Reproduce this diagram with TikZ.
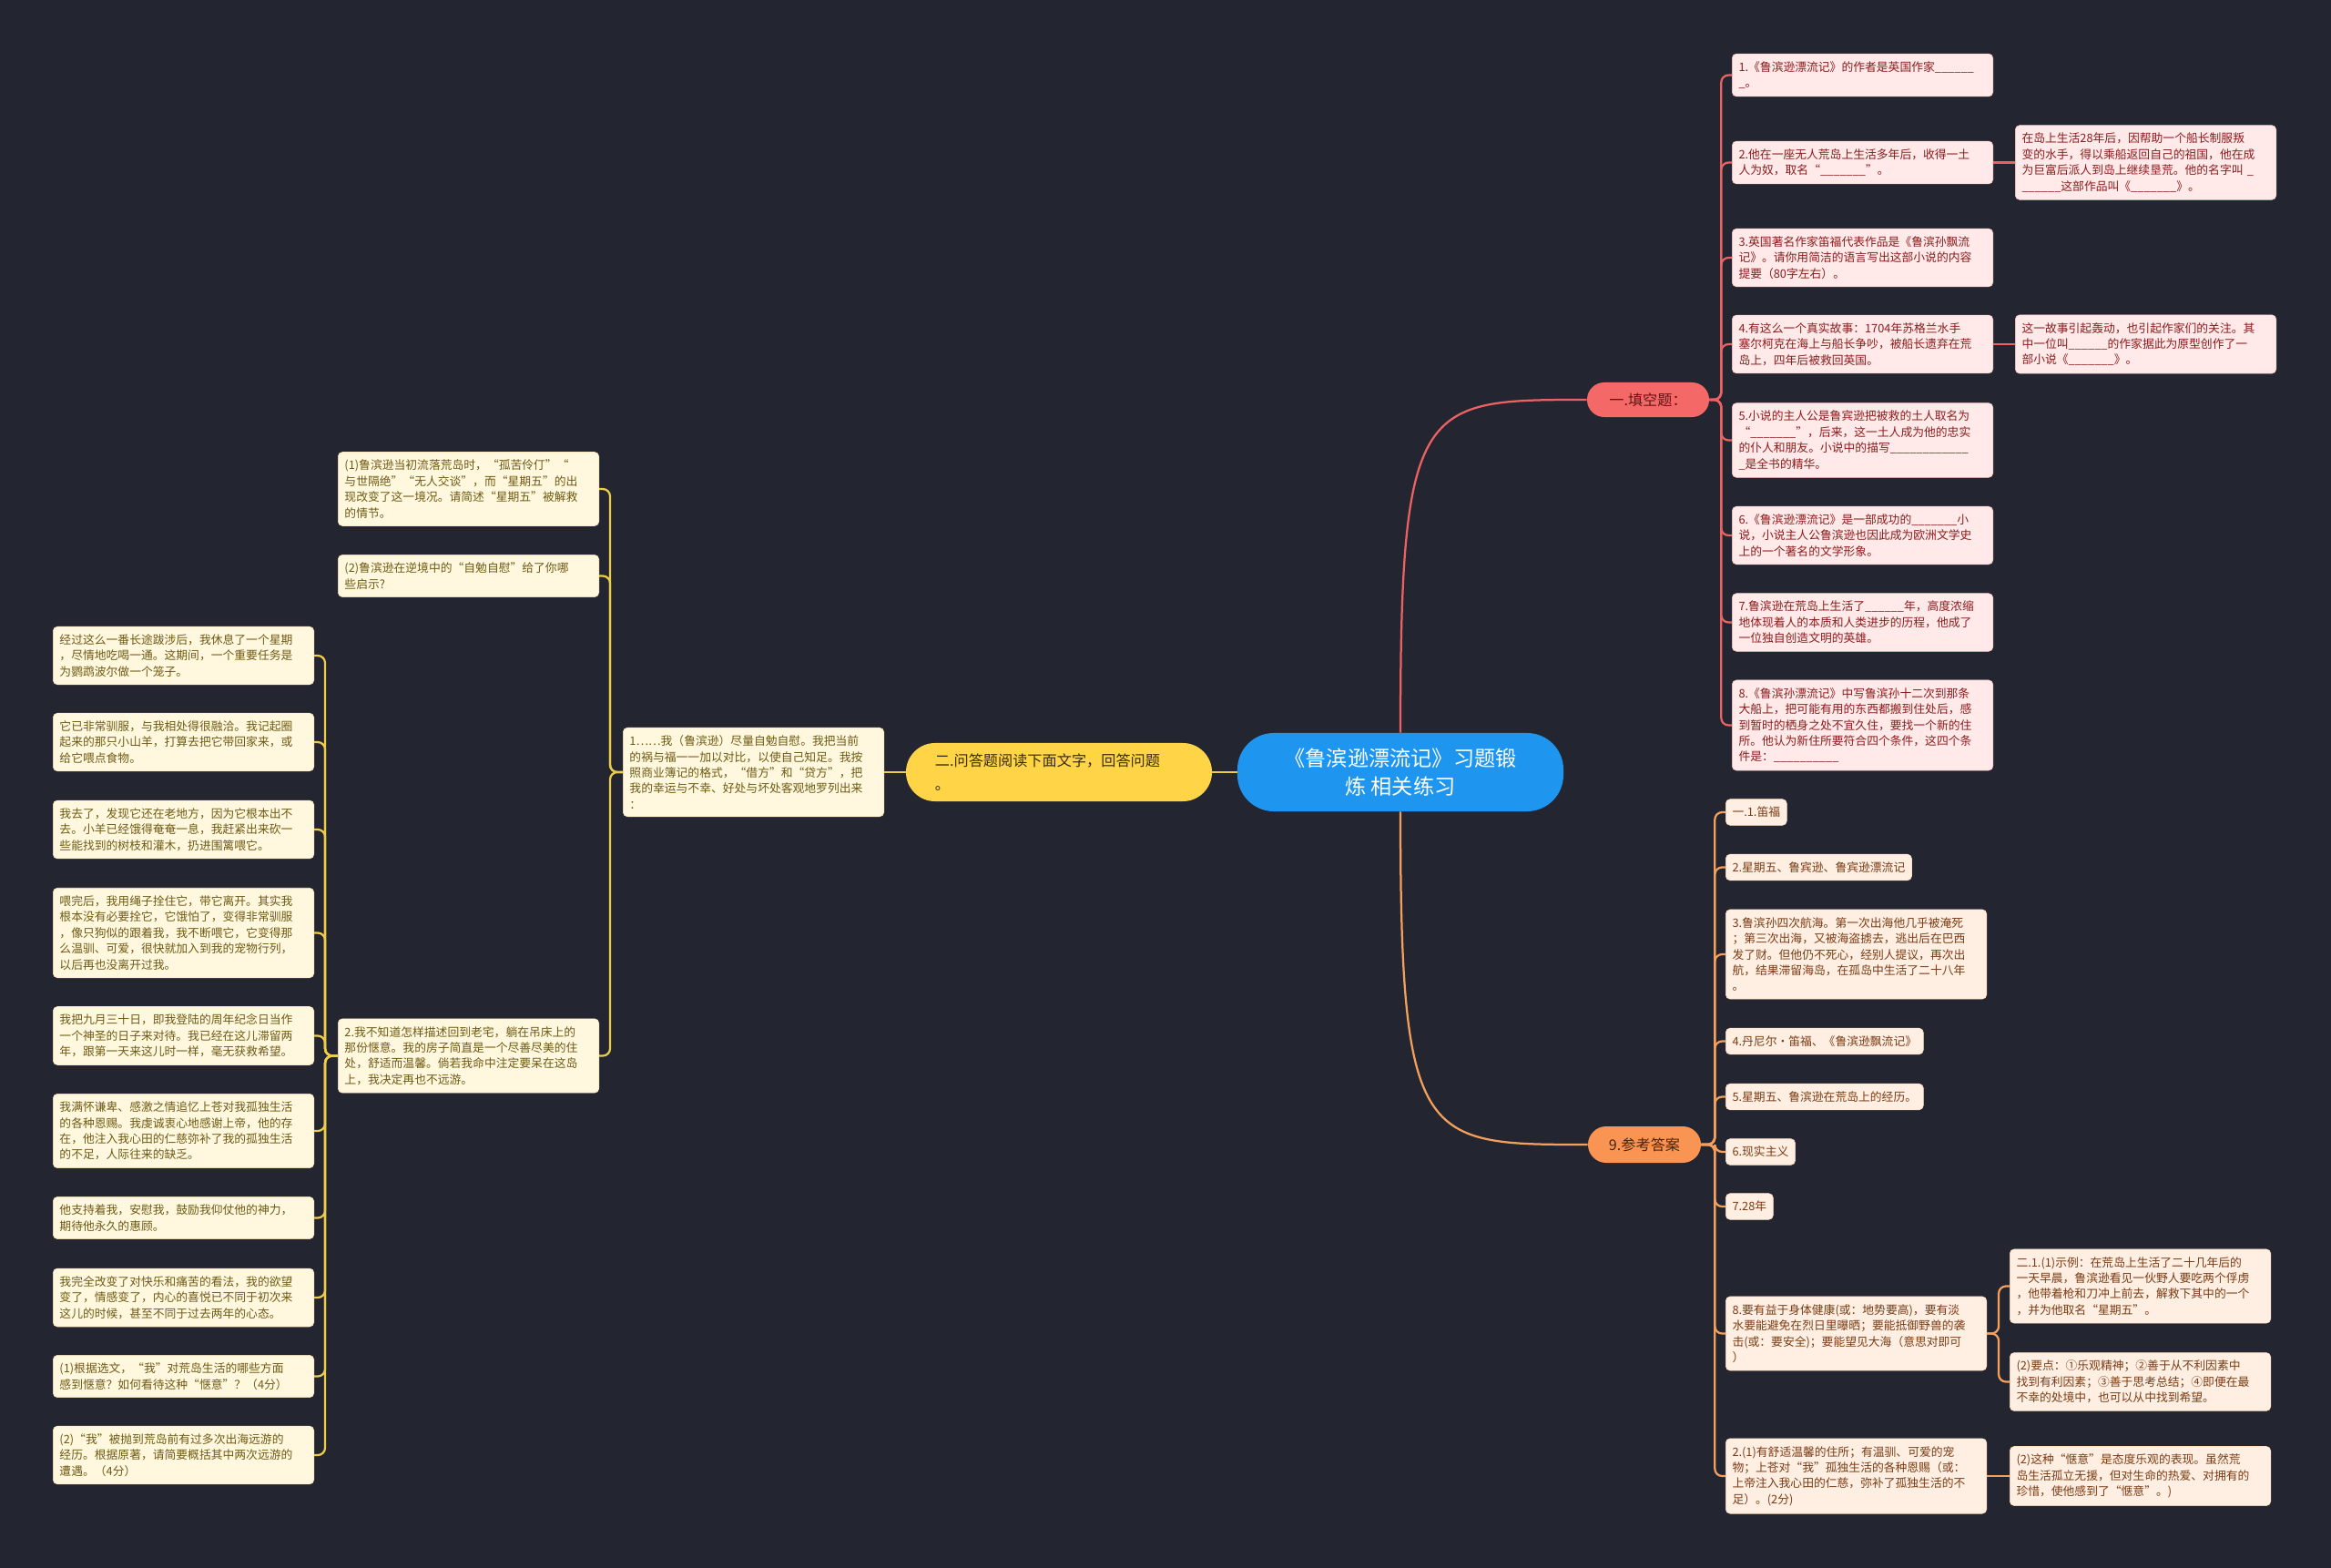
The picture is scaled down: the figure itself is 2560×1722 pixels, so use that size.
\documentclass[tikz,border=0pt]{standalone}
\usepackage{fontspec}
\setmainfont{Noto Sans CJK SC}
\usepackage{tikz}

\definecolor{bgcol}{RGB}{35,38,49}
\definecolor{rootblue}{RGB}{30,150,240}
\definecolor{redline}{RGB}{236,98,98}
\definecolor{redhead}{RGB}{244,104,104}
\definecolor{redfill}{RGB}{255,233,233}
\definecolor{redtext}{RGB}{140,28,28}
\definecolor{orline}{RGB}{244,160,92}
\definecolor{orhead}{RGB}{250,148,82}
\definecolor{orfill}{RGB}{255,238,226}
\definecolor{ortext}{RGB}{122,60,20}
\definecolor{yelline}{RGB}{236,204,72}
\definecolor{yelhead}{RGB}{255,212,70}
\definecolor{yelfill}{RGB}{255,248,222}
\definecolor{yeltext}{RGB}{110,90,20}

\tikzset{
  basebox/.style={anchor=west, rounded corners=0.12cm, align=left, inner xsep=0.18cm, inner ysep=0.21cm, line width=0.4pt, font=\fontsize{9.1}{12.4}\selectfont},
  widebox/.style={basebox, text width=6.8cm},
  redbox/.style={widebox, fill=redfill, draw=redfill!85!red, text=redtext},
  orbox/.style={widebox, fill=orfill, draw=orfill!85!orange, text=ortext},
  orshort/.style={basebox, fill=orfill, draw=orfill!85!orange, text=ortext},
  yelbox/.style={widebox, fill=yelfill, draw=yelfill!85!orange, text=yeltext},
  headnode/.style={align=center, inner sep=0pt, font=\fontsize{11.5}{19}\selectfont},
  redconn/.style={draw=redline, line width=1.6pt, rounded corners=0.2cm},
  orconn/.style={draw=orline, line width=1.6pt, rounded corners=0.2cm},
  yelconn/.style={draw=yelline, line width=1.6pt, rounded corners=0.2cm}
}

\begin{document}
\begin{tikzpicture}[x=0.025cm, y=-0.025cm]
\fill[bgcol] (0,0) rectangle (2560,1722);

% centre and main branches
\node[fill=rootblue, text=white, rounded corners=1cm, align=center, minimum width=8.95cm, minimum height=2.15cm, inner sep=0pt, font=\fontsize{16.5}{22}\selectfont] (root) at (1538,848) {《鲁滨逊漂流记》习题锻\\炼 相关练习};
\node[headnode, fill=redhead, text=redtext!70!black, rounded corners=0.47cm, minimum width=3.35cm, minimum height=0.95cm] (fillq) at (1810,439) {一.填空题：};
\node[headnode, fill=orhead, text=ortext!60!black, rounded corners=0.5cm, minimum width=3.1cm, minimum height=1cm] (answ) at (1806,1257) {9.参考答案};
\node[headnode, fill=yelhead, text=yeltext!50!black, rounded corners=0.8cm, align=left, text width=6.8cm, inner xsep=0.8cm, minimum height=1.6cm] (readq) at (1163,848) {二.问答题阅读下面文字，回答问题\\。};

% fill in the blanks
\node[redbox] (r1) at (1902,82.5) {1.《鲁滨逊漂流记》的作者是英国作家\_\_\_\_\_\_\\\_。};
\node[redbox] (r2) at (1902,178.5) {2.他在一座无人荒岛上生活多年后，收得一土\\人为奴，取名“\_\_\_\_\_\_\_”。};
\node[redbox] (r2a) at (2213,178.5) {在岛上生活28年后，因帮助一个船长制服叛\\变的水手，得以乘船返回自己的祖国，他在成\\为巨富后派人到岛上继续垦荒。他的名字叫 \_\\\_\_\_\_\_\_这部作品叫《\_\_\_\_\_\_\_》。};
\node[redbox] (r3) at (1902,283) {3.英国著名作家笛福代表作品是《鲁滨孙飘流\\记》。请你用简洁的语言写出这部小说的内容\\提要（80字左右）。};
\node[redbox] (r4) at (1902,378) {4.有这么一个真实故事：1704年苏格兰水手\\塞尔柯克在海上与船长争吵，被船长遗弃在荒\\岛上，四年后被救回英国。};
\node[redbox] (r4a) at (2213,378) {这一故事引起轰动，也引起作家们的关注。其\\中一位叫\_\_\_\_\_\_的作家据此为原型创作了一\\部小说《\_\_\_\_\_\_\_》。};
\node[redbox] (r5) at (1902,483.5) {5.小说的主人公是鲁宾逊把被救的土人取名为\\“\_\_\_\_\_\_\_”，后来，这一土人成为他的忠实\\的仆人和朋友。小说中的描写\_\_\_\_\_\_\_\_\_\_\_\_\\\_是全书的精华。};
\node[redbox] (r6) at (1902,588) {6.《鲁滨逊漂流记》是一部成功的\_\_\_\_\_\_\_小\\说，小说主人公鲁滨逊也因此成为欧洲文学史\\上的一个著名的文学形象。};
\node[redbox] (r7) at (1902,683.5) {7.鲁滨逊在荒岛上生活了\_\_\_\_\_\_年，高度浓缩\\地体现着人的本质和人类进步的历程，他成了\\一位独自创造文明的英雄。};
\node[redbox] (r8) at (1902,796.5) {8.《鲁滨孙漂流记》中写鲁滨孙十二次到那条\\大船上，把可能有用的东西都搬到住处后，感\\到暂时的栖身之处不宜久住，要找一个新的住\\所。他认为新住所要符合四个条件，这四个条\\件是：\_\_\_\_\_\_\_\_\_\_};

% answers
\node[orshort] (a1) at (1895,892) {一.1.笛福};
\node[orshort] (a2) at (1895,952.5) {2.星期五、鲁宾逊、鲁宾逊漂流记};
\node[orbox] (a3) at (1895,1048) {3.鲁滨孙四次航海。第一次出海他几乎被淹死\\；第三次出海，又被海盗掳去，逃出后在巴西\\发了财。但他仍不死心，经别人提议，再次出\\航，结果滞留海岛，在孤岛中生活了二十八年\\。};
\node[orshort] (a4) at (1895,1143.5) {4.丹尼尔·笛福、《鲁滨逊飘流记》};
\node[orshort] (a5) at (1895,1204.5) {5.星期五、鲁滨逊在荒岛上的经历。};
\node[orshort] (a6) at (1895,1265) {6.现实主义};
\node[orshort] (a7) at (1895,1325) {7.28年};
\node[orbox] (a8) at (1895,1464.5) {8.要有益于身体健康(或：地势要高)，要有淡\\水要能避免在烈日里曝晒；要能抵御野兽的袭\\击(或：要安全)；要能望见大海（意思对即可\\）};
\node[orbox] (a8a) at (2207,1412.5) {二.1.(1)示例：在荒岛上生活了二十几年后的\\一天早晨，鲁滨逊看见一伙野人要吃两个俘虏\\，他带着枪和刀冲上前去，解救下其中的一个\\，并为他取名“星期五”。};
\node[orbox] (a8b) at (2207,1517.5) {(2)要点：①乐观精神；②善于从不利因素中\\找到有利因素；③善于思考总结；④即便在最\\不幸的处境中，也可以从中找到希望。};
\node[orbox] (a9) at (1895,1621) {2.(1)有舒适温馨的住所；有温驯、可爱的宠\\物；上苍对“我”孤独生活的各种恩赐（或：\\上帝注入我心田的仁慈，弥补了孤独生活的不\\足）。(2分)};
\node[orbox] (a9a) at (2207,1621) {(2)这种“惬意”是态度乐观的表现。虽然荒\\岛生活孤立无援，但对生命的热爱、对拥有的\\珍惜，使他感到了“惬意”。)};

% reading questions
\node[yelbox] (q0) at (684,848) {1……我（鲁滨逊）尽量自勉自慰。我把当前\\的祸与福一一加以对比，以使自己知足。我按\\照商业簿记的格式，“借方”和“贷方”，把\\我的幸运与不幸、好处与坏处客观地罗列出来\\：};
\node[yelbox] (q1) at (371,537) {(1)鲁滨逊当初流落荒岛时，“孤苦伶仃”“\\与世隔绝”“无人交谈”，而“星期五”的出\\现改变了这一境况。请简述“星期五”被解救\\的情节。};
\node[yelbox] (q2) at (371,632.5) {(2)鲁滨逊在逆境中的“自勉自慰”给了你哪\\些启示?};
\node[yelbox] (q3) at (371,1159.5) {2.我不知道怎样描述回到老宅，躺在吊床上的\\那份惬意。我的房子简直是一个尽善尽美的住\\处，舒适而温馨。倘若我命中注定要呆在这岛\\上，我决定再也不远游。};

\node[yelbox] (l1) at (58,720) {经过这么一番长途跋涉后，我休息了一个星期\\，尽情地吃喝一通。这期间，一个重要任务是\\为鹦鹉波尔做一个笼子。};
\node[yelbox] (l2) at (58,815) {它已非常驯服，与我相处得很融洽。我记起圈\\起来的那只小山羊，打算去把它带回家来，或\\给它喂点食物。};
\node[yelbox] (l3) at (58,911) {我去了，发现它还在老地方，因为它根本出不\\去。小羊已经饿得奄奄一息，我赶紧出来砍一\\些能找到的树枝和灌木，扔进围篱喂它。};
\node[yelbox] (l4) at (58,1024.5) {喂完后，我用绳子拴住它，带它离开。其实我\\根本没有必要拴它，它饿怕了，变得非常驯服\\，像只狗似的跟着我，我不断喂它，它变得那\\么温驯、可爱，很快就加入到我的宠物行列，\\以后再也没离开过我。};
\node[yelbox] (l5) at (58,1137.5) {我把九月三十日，即我登陆的周年纪念日当作\\一个神圣的日子来对待。我已经在这儿滞留两\\年，跟第一天来这儿时一样，毫无获救希望。};
\node[yelbox] (l6) at (58,1242) {我满怀谦卑、感激之情追忆上苍对我孤独生活\\的各种恩赐。我虔诚衷心地感谢上帝，他的存\\在，他注入我心田的仁慈弥补了我的孤独生活\\的不足，人际往来的缺乏。};
\node[yelbox] (l7) at (58,1337.5) {他支持着我，安慰我，鼓励我仰仗他的神力，\\期待他永久的惠顾。};
\node[yelbox] (l8) at (58,1425) {我完全改变了对快乐和痛苦的看法，我的欲望\\变了，情感变了，内心的喜悦已不同于初次来\\这儿的时候，甚至不同于过去两年的心态。};
\node[yelbox] (l9) at (58,1511.5) {(1)根据选文，“我”对荒岛生活的哪些方面\\感到惬意？如何看待这种“惬意”？（4分）};
\node[yelbox] (l10) at (58,1598) {(2)“我”被抛到荒岛前有过多次出海远游的\\经历。根据原著，请简要概括其中两次远游的\\遭遇。（4分）};

% connectors
\draw[redconn] (root.north) .. controls +(0,-366) and +(-183,0) .. (fillq.west);
\draw[orconn] (root.south) .. controls +(0,366) and +(-183,0) .. (answ.west);
\draw[yelconn] (root.west) -- (readq.east);
\draw[yelconn] (readq.west) -- (q0.east);

\draw[redconn] (fillq.east) -- ++(13,0) |- (r1.west);
\draw[redconn] (fillq.east) -- ++(13,0) |- (r2.west);
\draw[redconn] (fillq.east) -- ++(13,0) |- (r3.west);
\draw[redconn] (fillq.east) -- ++(13,0) |- (r4.west);
\draw[redconn] (fillq.east) -- ++(13,0) |- (r5.west);
\draw[redconn] (fillq.east) -- ++(13,0) |- (r6.west);
\draw[redconn] (fillq.east) -- ++(13,0) |- (r7.west);
\draw[redconn] (fillq.east) -- ++(13,0) |- (r8.west);
\draw[redconn] (r2.east) -- (r2a.west);
\draw[redconn] (r4.east) -- (r4a.west);

\draw[orconn] (answ.east) -- ++(15,0) |- (a1.west);
\draw[orconn] (answ.east) -- ++(15,0) |- (a2.west);
\draw[orconn] (answ.east) -- ++(15,0) |- (a3.west);
\draw[orconn] (answ.east) -- ++(15,0) |- (a4.west);
\draw[orconn] (answ.east) -- ++(15,0) |- (a5.west);
\draw[orconn] (answ.east) -- ++(15,0) |- (a6.west);
\draw[orconn] (answ.east) -- ++(15,0) |- (a7.west);
\draw[orconn] (answ.east) -- ++(15,0) |- (a8.west);
\draw[orconn] (answ.east) -- ++(15,0) |- (a9.west);
\draw[orconn] (a8.east) -- ++(13,0) |- (a8a.west);
\draw[orconn] (a8.east) -- ++(13,0) |- (a8b.west);
\draw[orconn] (a9.east) -- (a9a.west);

\draw[yelconn] (q0.west) -- ++(-14,0) |- (q1.east);
\draw[yelconn] (q0.west) -- ++(-14,0) |- (q2.east);
\draw[yelconn] (q0.west) -- ++(-14,0) |- (q3.east);

\draw[yelconn] (q3.west) -- ++(-14,0) |- (l1.east);
\draw[yelconn] (q3.west) -- ++(-14,0) |- (l2.east);
\draw[yelconn] (q3.west) -- ++(-14,0) |- (l3.east);
\draw[yelconn] (q3.west) -- ++(-14,0) |- (l4.east);
\draw[yelconn] (q3.west) -- ++(-14,0) |- (l5.east);
\draw[yelconn] (q3.west) -- ++(-14,0) |- (l6.east);
\draw[yelconn] (q3.west) -- ++(-14,0) |- (l7.east);
\draw[yelconn] (q3.west) -- ++(-14,0) |- (l8.east);
\draw[yelconn] (q3.west) -- ++(-14,0) |- (l9.east);
\draw[yelconn] (q3.west) -- ++(-14,0) |- (l10.east);
\end{tikzpicture}
\end{document}
